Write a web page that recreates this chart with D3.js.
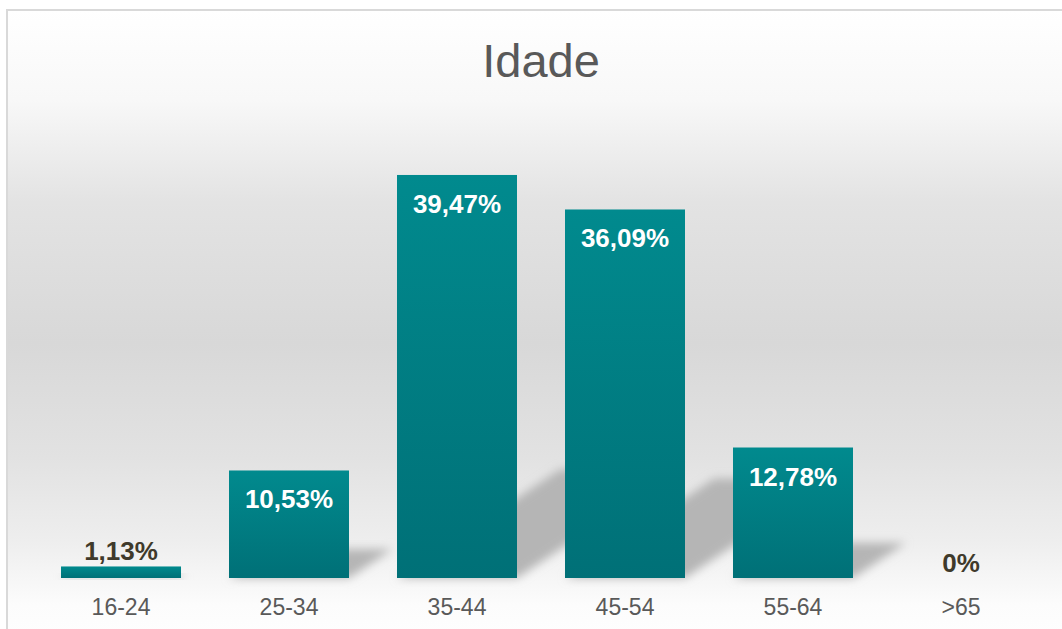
<!DOCTYPE html>
<html>
<head>
<meta charset="utf-8">
<script src="https://d3js.org/d3.v7.min.js"></script>
<style>
  body { margin: 0; background: #fff; }
  svg { display: block; font-family: "Liberation Sans", Arial, sans-serif; }
</style>
</head>
<body>
<svg width="1062" height="629"></svg>
<script>
// Data
var categories = ["16-24", "25-34", "35-44", "45-54", "55-64", ">65"];
var values = [1.13, 10.53, 39.47, 36.09, 12.78, 0];
var yMax = 45;

// The svg
var svg = d3.select("svg"),
    width = +svg.attr("width"),
    height = +svg.attr("height");

var baseY = 578;

// Scales
var x = d3.scaleBand()
    .domain(categories)
    .range([37, 1045])
    .paddingInner(0.2857)
    .paddingOuter(0.1429);

var y = d3.scaleLinear()
    .domain([0, yMax])
    .range([baseY, 118.5]);

// Number format with comma as decimal mark
var locale = d3.formatLocale({ decimal: ",", thousands: ".", grouping: [3], currency: ["", ""] });
var fmt = locale.format(".2~f");

var defs = svg.append("defs");

// Background gradient of the chart area
var bg = defs.append("linearGradient")
    .attr("id", "bg")
    .attr("x1", 0).attr("y1", 0).attr("x2", 0).attr("y2", 1);
[[0, "#ffffff"], [0.14, "#f8f8f8"], [0.3, "#e3e3e3"], [0.52, "#d8d8d8"], [0.7, "#e2e2e2"],
 [0.83, "#eeeeee"], [0.93, "#fcfcfc"], [1, "#ffffff"]].forEach(function(s) {
    bg.append("stop").attr("offset", s[0]).attr("stop-color", s[1]);
});

// Bar gradient
var barGrad = defs.append("linearGradient")
    .attr("id", "bar")
    .attr("x1", 0).attr("y1", 0).attr("x2", 0).attr("y2", 1);
barGrad.append("stop").attr("offset", 0).attr("stop-color", "#018a8e");
barGrad.append("stop").attr("offset", 1).attr("stop-color", "#007077");

// Shadow blur
defs.append("filter")
    .attr("id", "blur")
    .attr("x", "-50%").attr("y", "-50%").attr("width", "200%").attr("height", "200%")
    .append("feGaussianBlur")
    .attr("stdDeviation", 5);

// Chart area with border
svg.append("rect")
    .attr("x", 7)
    .attr("y", 10)
    .attr("width", 1070)
    .attr("height", 640)
    .attr("fill", "url(#bg)")
    .attr("stroke", "#d9d9d9")
    .attr("stroke-width", 2);

// Title
svg.append("text")
    .attr("x", 541)
    .attr("y", 77)
    .attr("text-anchor", "middle")
    .style("font-size", "47px")
    .style("fill", "#595959")
    .text("Idade");

// Perspective shadows behind the bars
svg.append("g")
    .selectAll("path")
    .data(values)
    .enter().append("path")
    .attr("d", function(d, i) {
        var x0 = x(categories[i]), x1 = x0 + x.bandwidth();
        var h = (baseY - y(d)) * 0.27, dx = h * 1.5;
        return "M" + x0 + "," + baseY + "L" + x1 + "," + baseY +
            "L" + (x1 + dx) + "," + (baseY - h) + "L" + (x0 + dx) + "," + (baseY - h) + "Z";
    })
    .attr("fill", "#b5b5b5")
    .attr("filter", "url(#blur)");

// Bars
svg.append("g")
    .selectAll("rect")
    .data(values)
    .enter().append("rect")
    .attr("x", function(d, i) { return x(categories[i]); })
    .attr("y", function(d) { return y(d); })
    .attr("width", x.bandwidth())
    .attr("height", function(d) { return baseY - y(d); })
    .attr("fill", "url(#bar)");

// Value labels
svg.append("g")
    .selectAll("text")
    .data(values)
    .enter().append("text")
    .attr("x", function(d, i) { return x(categories[i]) + x.bandwidth() / 2; })
    .attr("y", function(d) { return baseY - y(d) > 50 ? y(d) + 38 : y(d) - 6; })
    .attr("text-anchor", "middle")
    .style("font-size", "26px")
    .style("font-weight", "bold")
    .style("fill", function(d) { return baseY - y(d) > 50 ? "#ffffff" : "#3f3a2b"; })
    .text(function(d) { return fmt(d) + "%"; });

// X axis
var xAxis = svg.append("g")
    .attr("transform", "translate(0," + baseY + ")")
    .call(d3.axisBottom(x).tickSize(0).tickPadding(21));
xAxis.select(".domain").remove();
xAxis.selectAll("text")
    .style("font-family", "\"Liberation Sans\", Arial, sans-serif")
    .style("font-size", "23px")
    .style("fill", "#595959");
</script>
</body>
</html>
